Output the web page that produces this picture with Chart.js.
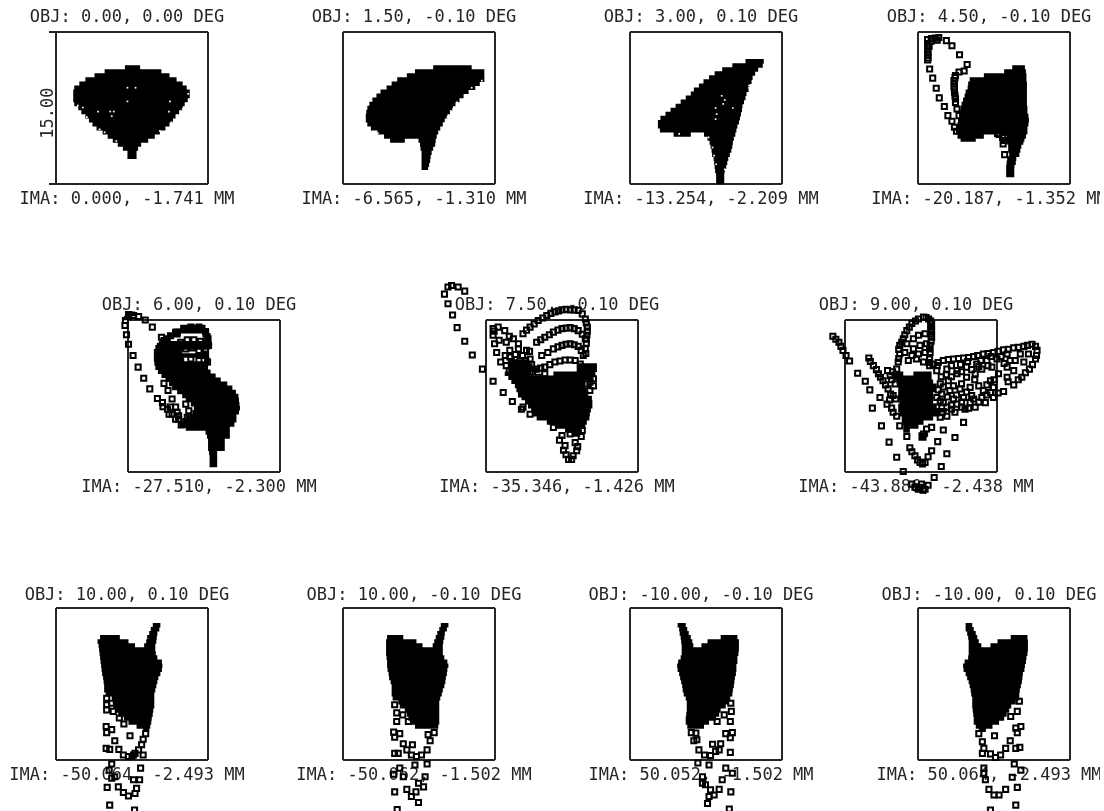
<!DOCTYPE html>
<html>
<head>
<meta charset="utf-8">
<title>Spot diagram</title>
<script src="https://cdn.jsdelivr.net/npm/chart.js@4/dist/chart.umd.min.js"></script>
<style>
   html, body { margin: 0; background: #fff; overflow: hidden; }
   #plots { position: absolute; left: 0; top: 0; width: 1100px; height: 811px; overflow: hidden; }
   #plots canvas { position: absolute; }
</style>
</head>
<body>
<div id="plots"></div>
<script>
const objLabels = ['OBJ: 0.00, 0.00 DEG', 'OBJ: 1.50, -0.10 DEG', 'OBJ: 3.00, 0.10 DEG', 'OBJ: 4.50, -0.10 DEG',
   'OBJ: 6.00, 0.10 DEG', 'OBJ: 7.50, -0.10 DEG', 'OBJ: 9.00, 0.10 DEG',
   'OBJ: 10.00, 0.10 DEG', 'OBJ: 10.00, -0.10 DEG', 'OBJ: -10.00, -0.10 DEG', 'OBJ: -10.00, 0.10 DEG'];
const imaLabels = ['IMA: 0.000, -1.741 MM', 'IMA: -6.565, -1.310 MM', 'IMA: -13.254, -2.209 MM', 'IMA: -20.187, -1.352 MM',
   'IMA: -27.510, -2.300 MM', 'IMA: -35.346, -1.426 MM', 'IMA: -43.886, -2.438 MM',
   'IMA: -50.064, -2.493 MM', 'IMA: -50.062, -1.502 MM', 'IMA: 50.052, -1.502 MM', 'IMA: 50.064, -2.493 MM'];
const boxLabel = '15.00 ';

// spot body as horizontal runs [y, xLeft, xRight] in microns
const rows1 = [[4.0,-.7,.8],[3.6,-2.7,2.9],[3.2,-3.7,3.7],[2.8,-4.6,4.4],[2.4,-5.2,5.0],[2.0,-5.7,5.4],[1.6,-5.8,5.7],[1.2,-5.8,5.7],[.8,-5.8,5.5],[.4,-5.7,5.2],[0,-5.3,5.0],[-.4,-5.0,4.65],[-.8,-4.6,4.3],[-1.2,-4.25,4.05],[-1.6,-3.9,3.7],[-2.0,-3.5,3.3],[-2.4,-2.9,2.75],[-2.8,-2.4,2.25],[-3.2,-1.9,1.6],[-3.6,-1.4,.9],[-4.0,-.9,.6],[-4.4,-.45,.45],[-4.8,-.45,.45]];
const rows2 = [[4.0,1.4,5.2],[3.6,-.4,6.45],[3.2,-1.2,6.45],[2.8,-2.15,6.45],[2.4,-2.7,6.0],[2.0,-3.2,5.55],[1.6,-3.8,4.9],[1.2,-4.2,4.4],[.8,-4.6,4.0],[.4,-4.9,3.6],[0,-5.1,3.35],[-.4,-5.2,3.05],[-.8,-5.25,2.8],[-1.2,-5.25,2.55],[-1.6,-5.1,2.35],[-2.0,-4.75,2.1],[-2.4,-4.1,1.9],[-2.8,-3.45,1.75],[-3.2,-2.85,-1.4],[-3.2,-.05,1.65],[-3.6,.1,1.6],[-4.0,.15,1.4],[-4.4,.25,1.25],[-4.8,.25,1.15],[-5.2,.25,1.1],[-5.6,.25,1.0],[-5.9,.25,.9]];
const rows3 = [[4.6,3.9,5.7],[4.2,2.6,5.6],[3.8,1.6,5.15],[3.4,.85,4.85],[3.0,.3,4.6],[2.6,-.25,4.5],[2.2,-.7,4.3],[1.8,-1.2,4.2],[1.4,-1.5,4.0],[1.0,-2.0,3.9],[.6,-2.5,3.75],[.2,-3.0,3.6],[-.2,-3.5,3.55],[-.6,-4.0,3.45],[-1.0,-4.5,3.35],[-1.4,-4.75,3.25],[-1.8,-4.75,3.1],[-2.2,-4.55,3.0],[-2.6,-3.2,-1.5],[-2.6,-.2,2.9],[-3.0,.15,2.75],[-3.4,.35,2.65],[-3.8,.45,2.6],[-4.2,.55,2.5],[-4.6,.6,2.35],[-5.0,.75,2.2],[-5.4,.8,2.1],[-5.8,.85,2.0],[-6.2,.9,1.85],[-6.6,1.0,1.8],[-7.0,1.0,1.8],[-7.3,1.0,1.8]];
const rows4 = [[4.0,1.8,3.05],[3.6,1.0,3.15],[3.2,-1.0,3.2],[2.8,-2.4,3.2],[2.4,-2.55,3.25],[2.0,-2.6,3.25],[1.6,-2.8,3.25],[1.2,-2.9,3.25],[.8,-3.05,3.25],[.4,-3.2,3.25],[0,-3.3,3.3],[-.4,-3.35,3.3],[-.8,-3.45,3.4],[-1.2,-3.55,3.45],[-1.6,-3.6,3.4],[-2.0,-3.75,3.3],[-2.4,-3.75,3.3],[-2.8,-3.6,-1.0],[-3.1,-3.3,-1.8],[-2.8,1.3,3.15],[-3.1,1.3,3.0],[-3.4,1.3,2.9],[-3.8,1.4,2.7],[-4.2,1.4,2.6],[-4.6,1.5,2.5],[-5.0,1.3,2.2],[-5.4,1.25,2.15],[-5.8,1.2,2.0],[-6.2,1.2,2.0],[-6.6,1.2,2.0]];
const rows5 = [[8.1,-7.75,-6.8],[7.7,-7.9,-7.1],[6.8,-2.3,.15],[6.4,-3.15,.5],[6.0,-3.65,-2.3],[6.0,-.15,.65],[5.6,-4.3,-3.3],[5.6,0,.65],[5.2,-4.45,.65],[4.8,-4.8,.6],[4.4,-4.95,-2.3],[4.0,-4.95,.5],[3.6,-4.95,-2.0],[3.6,0,.55],[3.2,-4.9,.5],[2.8,-4.8,.4],[2.4,-4.55,.65],[2.0,-4.2,1.15],[1.6,-3.8,1.65],[1.2,-3.45,2.3],[.8,-3.15,2.8],[.4,-2.65,3.15],[0,-2.15,3.4],[-.4,-1.8,3.45],[-.8,-1.3,3.5],[-1.2,-1.0,3.55],[-1.6,-1.15,3.45],[-2.0,-1.8,3.2],[-2.4,-2.15,3.2],[-2.8,-2.45,3.0],[-3.2,-1.8,2.55],[-3.6,.15,2.55],[-4.0,.3,2.55],[-4.4,.4,2.05],[-4.8,.4,2.05],[-5.2,.4,2.05],[-5.6,.5,1.3],[-6.0,.55,1.3],[-6.4,.55,1.3],[-6.8,.55,1.3]];
const rows6 = [[3.4,-5.3,-3.2],[3.0,-5.3,-2.9],[2.6,-5.3,-2.2],[2.2,-5.65,-3.2],[3.0,1.6,3.45],[2.6,1.45,3.45],[2.2,-.85,3.3],[1.8,-5.3,3.1],[1.4,-5.0,2.3],[1.0,-4.65,2.3],[.6,-4.5,2.45],[.2,-4.3,2.6],[-.2,-4.0,2.95],[-.6,-3.65,3.0],[-1.0,-3.35,3.0],[-1.4,-3.05,2.85],[-1.8,-2.85,2.75],[-2.2,-2.5,2.7],[-2.6,-1.5,2.45],[-3.0,-.7,2.3],[-3.4,.45,1.95],[-3.8,.95,1.8]];
const rows7 = [[2.2,-2.9,-1.75],[2.2,-.75,1.05],[1.8,-2.75,1.05],[1.4,-2.4,1.2],[1.0,-2.25,1.55],[.6,-2.25,1.4],[.2,-2.25,1.2],[-.2,-2.25,1.2],[-.6,-2.15,1.2],[-1.0,-2.25,1.55],[-1.4,-2.25,2.55],[-1.8,-2.1,1.9],[-2.2,-1.9,1.2],[-2.6,-1.9,.25],[-3.0,-1.75,-.25],[-3.4,-1.75,-1.1],[-3.8,-.25,.7],[-4.2,-.25,.55]];
const rows8 = [[5.8,2.05,2.8],[5.4,1.85,2.7],[5.0,1.7,2.5],[4.6,1.5,2.45],[4.2,1.4,2.4],[3.8,1.2,2.3],[4.6,-3.15,-1.2],[4.2,-3.4,-.35],[3.8,-3.3,.3],[3.4,-3.25,2.3],[3.0,-3.2,2.35],[2.6,-3.15,2.5],[2.2,-3.1,2.95],[1.8,-3.05,3.0],[1.4,-3.0,2.95],[1.0,-2.95,2.8],[.6,-2.85,2.6],[.2,-2.8,2.5],[-.2,-2.75,2.4],[-.6,-2.75,2.3],[-1.0,-2.6,2.2],[-1.4,-2.0,2.2],[-1.8,-1.9,2.2],[-2.2,-1.85,2.2],[-2.6,-1.6,2.1],[-3.0,-1.35,2.05],[-3.4,-.8,1.95],[-3.8,-.35,1.9],[-4.2,.45,1.8],[-4.5,1.1,1.7]];
const rows9 = [[5.8,2.15,2.9],[5.4,2.0,2.75],[5.0,1.8,2.55],[4.6,1.65,2.5],[4.2,1.5,2.4],[3.8,1.35,2.35],[4.6,-3.15,-1.55],[4.2,-3.25,-.25],[3.8,-3.25,.35],[3.4,-3.25,2.35],[3.0,-3.25,2.35],[2.6,-3.2,2.5],[2.2,-3.15,2.8],[1.8,-3.15,2.9],[1.4,-3.1,2.8],[1.0,-3.0,2.75],[.6,-2.95,2.65],[.2,-2.8,2.6],[-.2,-2.7,2.5],[-.6,-2.7,2.35],[-1.0,-2.7,2.25],[-1.4,-2.6,2.1],[-1.8,-2.05,2.0],[-2.2,-1.9,2.0],[-2.6,-1.4,2.0],[-3.0,-1.2,2.0],[-3.4,-1.05,2.0],[-3.8,-.75,2.0],[-4.2,-.4,1.9]];
const rows10 = [[5.8,-2.8,-2.0],[5.4,-2.65,-1.85],[5.0,-2.6,-1.7],[4.6,-2.5,-1.5],[4.2,-2.45,-1.35],[3.8,-2.4,-1.25],[4.6,1.45,3.1],[4.2,.15,3.25],[3.8,-.45,3.25],[3.4,-2.4,3.25],[3.0,-2.4,3.2],[2.6,-2.5,3.1],[2.2,-2.75,3.1],[1.8,-2.85,3.0],[1.4,-2.8,3.0],[1.0,-2.65,2.95],[.6,-2.55,2.85],[.2,-2.45,2.8],[-.2,-2.35,2.75],[-.6,-2.3,2.65],[-1.0,-2.2,2.6],[-1.4,-2.0,2.4],[-1.8,-1.9,2.2],[-2.2,-1.9,1.95],[-2.6,-1.9,1.45],[-3.0,-1.95,1.3],[-3.4,-2.0,1.0],[-3.8,-2.0,.3],[-4.2,-1.85,-.2]];
const rows11 = [[5.8,-2.8,-2.15],[5.4,-2.8,-2.0],[5.0,-2.65,-1.8],[4.6,-2.55,-1.65],[4.2,-2.5,-1.5],[3.8,-2.5,-1.25],[4.6,1.65,3.3],[4.2,.35,3.35],[3.8,-.35,3.35],[3.4,-2.5,3.35],[3.0,-2.5,3.3],[2.6,-2.55,3.2],[2.2,-2.9,3.15],[1.8,-3.05,3.05],[1.4,-3.0,3.0],[1.0,-2.8,2.85],[.6,-2.65,2.8],[.2,-2.5,2.75],[-.2,-2.4,2.65],[-.6,-2.3,2.55],[-1.0,-2.25,2.5],[-1.4,-2.15,2.5],[-1.8,-2.15,2.15],[-2.2,-2.15,1.7],[-2.6,-2.1,1.5],[-3.0,-2.05,1.25],[-3.4,-2.0,1.0],[-3.8,-2.0,.5],[-4.2,-1.8,-.15],[-4.5,-1.5,-.8]];

// separate ray points [x, y] in microns
const spots1 = [];
const spots2 = [];
const spots3 = [];
const spots4 = [[-6.55,6.75],[-6.15,6.85],[-5.8,6.9],[-5.45,6.95],[-4.7,6.65],[-4.15,6.15],[-3.4,5.25],[-2.65,4.3],[-6.55,6.35],[-6.55,5.8],[-6.55,5.2],[-6.55,4.75],[-6.35,3.85],[-6.05,2.95],[-5.7,1.95],[-5.4,1.0],[-4.9,.15],[-4.55,-.75],[-4.15,-1.3],[-3.9,-1.9],[-3.7,-2.3],[-2.95,3.65],[-3.45,3.55],[-3.8,3.2],[-3.95,2.7],[-3.95,2.1],[-3.9,1.55],[-3.8,.55],[-3.65,-.1],[-3.45,-.75],[.9,-3.55],[1.05,-4.6],[.85,-2.9],[1.65,-5.55],[1.15,-2.4],[.35,-2.5],
   [-6.2,6.6],[-5.6,6.7],[-6.4,6.1],[-6.5,5.5],[-6.5,4.95],[-3.85,3.0],[-3.9,2.4],[-3.9,1.85],[-3.85,1.2],[-3.8,.9],[.5,-2.6],[1.6,-2.9],[1.0,-3.2]];
const spots5 = [[-7.45,8.05],[-6.95,7.95],[-6.45,7.85],[-5.8,7.5],[-5.1,6.8],[-7.75,7.45],[-7.8,6.95],[-7.65,6.05],[-7.45,5.1],[-7.0,4.0],[-6.5,2.85],[-5.95,1.75],[-5.35,.7],[-4.6,-.25],[-4.05,-1.05],[-3.45,-1.8],[-2.8,-2.3],[-2.25,-2.85],[-3.95,1.25],[-3.55,.55],[-3.15,-.3],[-2.8,-1.1],[-2.5,-1.95],[-1.8,-.8],[-1.5,-1.45],[-1.65,-2.1],[-3.3,-1.1],[-2.65,-1.6],[-4.2,5.8],[-3.65,5.65],[-3.3,5.95],[-2.65,6.3],[-2.0,6.65],[-1.3,6.8],[-.5,6.8],[.15,6.35],[.4,5.65],[.45,5.0],[-4.3,4.9],[-3.65,4.65],[-3.0,5.0],[-2.3,5.3],[-1.65,5.55],[-1.0,5.55],[-.35,5.4],[.15,4.65],[-4.45,3.85],[-3.8,3.75],[-3.15,4.0],[-2.5,4.3],[-1.8,4.65],[-1.15,4.75],[-.5,4.5],[.15,4.0],[-3.3,3.35],[-2.3,3.35],[-1.3,3.65],[-.5,3.5],[.35,3.35],
   [-4.1,-.65],[-3.6,-1.3],[-3.15,-1.8],[-2.5,-2.3],[-2.0,-2.8]];
const spots6 = [[-11.6,10.05],[-11.25,10.75],[-10.9,10.9],[-10.25,10.75],[-9.6,10.35],[-11.25,9.1],[-10.8,8.0],[-10.35,6.75],[-9.6,5.4],[-8.85,4.05],[-7.85,2.65],[-6.8,1.45],[-5.8,.35],[-4.9,-.55],[-4.0,-1.3],[-3.15,-1.8],[-6.8,6.65],[-6.3,6.8],[-5.65,6.45],[-6.8,6.0],[-6.65,5.15],[-5.5,5.3],[-4.8,5.65],[-6.45,4.3],[-6.05,3.35],[-5.15,4.5],[-4.3,5.15],[-3.85,6.15],[-3.15,6.8],[-2.35,7.45],[-1.5,7.95],[-.7,8.3],[0,8.5],[.8,8.5],[1.6,8.45],[2.3,7.6],[2.5,6.8],[2.45,6.0],[-5.15,3.85],[-4.3,4.65],[-3.5,4.5],[-2.5,5.3],[-1.7,5.8],[-.85,6.3],[0,6.65],[.8,6.75],[1.6,6.45],[2.3,5.65],[2.3,4.65],[-4.15,3.5],[-3.15,3.65],[-2.0,4.0],[-.85,4.65],[0,5.0],[.8,5.15],[1.6,4.9],[2.1,4.0],[-2.5,2.65],[-1.7,2.85],[-.7,3.35],[.3,3.55],[1.3,3.5],[1.8,3.15],[-3.5,3.0],[-4.8,2.85],[-4.15,2.2],[-3.15,2.2],[-2.35,1.85],[-1.7,2.2],[2.75,1.35],[3.1,1.7],[2.75,.55],[3.1,1.0],[2.45,1.2],[-.85,-3.1],[-.25,-4.35],[.15,-5.35],[.65,-6.25],[1.1,-5.9],[1.45,-5.4],[1.3,-4.6],[.8,-3.75],[1.6,-3.45],[.65,-3.25],[.95,-6.25],[-3.85,-1.1],[-3.15,-.15],[-4.0,.2],
   [-3.5,6.5],[-2.75,7.1],[-1.9,7.7],[-1.1,8.15],[-.35,8.4],[.4,8.55],[1.2,8.5],[2.0,8.1],[2.4,7.2],[2.5,6.4],[2.4,5.6],[2.4,5.2],[2.35,4.2],[-2.1,5.55],[-1.25,6.05],[-.4,6.5],[.4,6.7],[1.2,6.65],[2.0,6.1],[-1.4,4.3],[-.4,4.85],[.4,5.1],[1.2,5.05],[1.9,4.5],[-1.2,3.1],[-.2,3.45],[.8,3.55],[-2.1,2.75],[-5.5,3.0],[-5.0,3.4],[-4.6,3.1],[-3.8,2.6],[-5.2,2.5],[-3.9,4.0],[-4.6,4.1],[-3.0,3.1],[-2.9,2.4],[-3.6,3.5],[-3.2,4.4],[-5.6,4.0],[-6.7,6.4],[-5.2,5.9],[-6.2,5.5],[2.0,-3.4],[1.9,-4.0],[1.55,-5.0],[.4,-5.8],[.3,-4.9],[0,-3.9]];
const spots7 = [[-.25,7.6],[.25,7.8],[.75,7.6],[1.05,7.15],[1.05,6.45],[1.05,5.8],[.9,5.0],[.9,4.3],[.85,3.65],[.85,3.0],[-.9,7.15],[-1.4,6.45],[-1.75,5.65],[-2.1,5.0],[-2.1,4.15],[-2.25,3.35],[-2.4,2.65],[-.75,5.65],[-.25,6.0],[.4,6.15],[-1.4,5.15],[-.75,4.65],[-.1,5.0],[.55,5.15],[-1.6,4.3],[-.9,4.0],[-.25,4.15],[.4,4.3],[-1.25,3.5],[-.45,3.65],[.25,3.35],[-8.7,5.9],[-8.1,5.3],[-7.7,4.5],[-7.05,3.45],[-6.25,2.25],[-5.5,1.45],[-5.05,.6],[-4.05,-.15],[-3.35,-.8],[-2.75,-1.6],[-5.15,3.75],[-4.7,3.0],[-4.2,2.2],[-3.75,1.5],[-3.25,.7],[-2.5,-.3],[-3.05,2.0],[-2.55,1.2],[-2.75,.05],[-4.8,-1.2],[-3.9,-2.95],[-3.15,-4.55],[-2.4,-6.05],[-1.75,-7.45],[-2.1,-2.95],[-1.4,-4.0],[-1.1,-5.1],[-.6,-5.9],[-.1,-6.55],[.4,-6.55],[1.05,-5.4],[1.65,-4.5],[2.2,-3.35],[3.35,-4.1],[2.55,-5.7],[2.0,-6.95],[1.3,-8.05],[4.2,-2.6],[.55,-3.25],[1.05,-3.1],[.25,-3.75],[-.9,-8.7],[-.25,-9.2],[.4,-9.2],[.05,-8.7],[1.2,3.15],[2.2,3.5],[3.2,3.65],[4.2,3.75],[5.2,3.9],[6.15,4.15],[7.15,4.3],[8.15,4.55],[9.15,4.75],[10.15,4.9],[10.95,5.1],[11.45,4.5],[11.3,3.65],[10.7,2.65],[9.95,1.85],[9.15,1.1],[8.15,.45],[7.15,-.15],[6.35,-.65],[5.35,-1.1],[4.35,-1.3],[3.35,-1.6],[2.55,-2.0],[1.9,-2.1],[1.55,2.5],[2.55,2.65],[3.55,2.5],[4.5,2.85],[5.5,3.15],[6.5,3.5],[7.5,3.65],[8.5,4.15],[9.3,3.5],[8.5,2.85],[7.65,2.2],[6.85,1.5],[6.15,.55],[5.0,.05],[4.2,-.15],[3.2,-.3],[2.2,-.65],[1.55,-.15],[1.9,1.2],[2.7,1.5],[3.55,2.2],[4.5,1.85],[5.35,2.2],[6.0,2.65],[7.0,2.85],[8.8,3.5],[9.8,4.15],[10.6,4.15],[10.15,3.35],[9.15,2.5],[8.5,1.85],[7.15,.85],[5.7,1.0],[4.85,.85],[3.85,.7],[2.85,.55],[2.05,.2],[1.55,-1.1],[2.55,-1.1],[3.55,-.8],[4.85,-.65],[6.0,-.15],[6.85,.35],
   [1.6,3.0],[2.0,1.9],[2.5,2.1],[3.0,3.0],[3.0,1.9],[3.9,3.1],[4.0,2.4],[4.6,3.4],[5.0,2.6],[5.7,2.9],[5.9,3.5],[6.6,3.0],[6.9,3.9],[7.9,3.9],[8.2,3.2],[7.2,1.6],[6.5,1.1],[5.3,1.6],[3.2,1.0],[2.2,.9],[1.7,.6],[4.0,1.2],[4.5,.4],[3.5,.1],[2.6,-.1],[1.9,-.5],[3.0,-.9],[4.0,-.6],[5.2,-.3],[5.7,-.6],[2.1,-1.6],[3.0,-1.3],[4.0,-1.1],[4.7,-1.2],[6.5,.1],[7.6,.3],[8.6,1.4],[9.6,1.6],[10.3,2.3],[11.0,3.1],[11.4,4.0],[11.3,4.9],[10.5,5.0],[9.6,4.8],[8.6,4.6],[7.6,4.4],[6.6,4.2],[5.6,4.0],[4.7,3.8],[3.7,3.7],[2.7,3.6],[1.7,3.3],
   [-2.9,1.6],[-3.0,.2],[-3.3,2.5],[-2.8,2.4],[-3.1,-.4],[-2.9,-1.2],[-2.4,-2.0],[.95,6.8],[.95,6.1],[1.0,5.4],[.85,4.65],[.8,3.3],[-1.9,5.3],[-2.2,4.6],[-2.2,3.7],[-1.15,6.8],[-1.6,6.05],[-.55,7.4],[.5,7.75],[.95,7.4],[-8.4,5.6],[-7.9,4.9],[-7.4,4.0],[-5.0,3.4],[-4.4,2.6],[-4.0,1.85],[-3.5,1.1],[-.35,-6.3],[.15,-6.7],[.7,-6.0],[-.9,-5.5],[-.1,-9.0],[.2,-9.3],[-.6,-9.0],[.7,-8.8]];
const spots8 = [[-2.5,-1.4],[-2.5,-2.05],[-2.0,-1.9],[-2.5,-2.55],[-1.85,-2.7],[-1.25,-3.35],[-.8,-3.95],[-2.55,-4.2],[-2.0,-4.5],[-2.5,-4.8],[-.2,-5.1],[-1.7,-5.6],[1.35,-4.9],[1.1,-5.45],[.95,-6.0],[-2.55,-6.35],[-2.2,-6.45],[-1.3,-6.45],[-.85,-7.0],[-.35,-7.15],[.15,-7.0],[.65,-6.5],[1.1,-7.0],[-2.0,-7.9],[-2.25,-8.5],[.85,-8.3],[-1.7,-9.15],[.15,-9.45],[.75,-9.45],[-2.45,-10.2],[-1.35,-10.15],[-.85,-10.7],[-.35,-11.05],[.3,-10.8],[.45,-10.3],[-2.2,-11.95],[.25,-12.45],[-2.0,-9.3],[0,-7.15],[.3,-6.85]];
const spots9 = [[-2.4,-2.05],[-2.2,-2.85],[-1.6,-3.05],[-2.2,-3.7],[-1.05,-3.7],[-2.5,-4.75],[-1.9,-4.9],[-2.4,-5.25],[.9,-5.0],[1.5,-4.8],[1.1,-5.6],[-1.55,-5.9],[-.65,-6.0],[-1.2,-6.5],[-.75,-7.0],[-.25,-7.15],[.25,-7.0],[.8,-6.5],[-2.4,-6.85],[-2.05,-6.85],[-.4,-8.0],[.8,-7.9],[-1.9,-8.3],[-2.5,-8.9],[-1.55,-9.15],[.6,-9.15],[-.05,-9.8],[.45,-10.15],[-.3,-10.65],[-1.2,-10.4],[-2.4,-10.65],[-.75,-11.1],[-.05,-11.7],[-2.15,-12.4]];
const spots10 = [[2.45,-1.9],[2.5,-2.7],[1.8,-3.05],[2.4,-3.7],[1.1,-3.7],[-1.0,-4.85],[-.9,-5.5],[-1.45,-4.8],[-1.2,-5.6],[1.95,-4.9],[2.6,-4.8],[2.4,-5.3],[.65,-5.95],[1.45,-5.9],[-.7,-6.5],[-.15,-7.0],[.45,-7.05],[.95,-6.65],[1.3,-6.5],[2.4,-6.75],[.3,-8.0],[-.8,-7.8],[1.95,-8.3],[2.6,-8.8],[1.6,-9.45],[-.35,-9.15],[-.05,-9.95],[.45,-10.45],[1.3,-10.4],[.8,-10.95],[.3,-11.1],[.15,-11.8],[2.45,-10.65],[2.3,-12.35],[-.35,-9.8]];
const spots11 = [[2.5,-1.7],[2.3,-2.7],[1.65,-3.2],[2.15,-4.35],[2.65,-4.2],[2.3,-4.8],[-1.5,-4.9],[-1.15,-5.7],[-1.0,-6.35],[.05,-5.1],[1.6,-5.6],[1.15,-6.35],[2.15,-6.35],[2.55,-6.25],[-1.15,-6.85],[-.35,-6.9],[.15,-7.25],[.65,-7.0],[-1.0,-8.3],[-.85,-9.45],[2.0,-7.9],[2.65,-8.5],[1.8,-9.2],[-.5,-10.4],[0,-10.95],[.5,-10.95],[1.15,-10.4],[2.3,-10.2],[2.15,-11.95],[-.35,-12.45],[-1.0,-8.8]];

// light pin holes left inside the black body
const specks1 = [[-.45,2.0],[.35,2.0],[-.45,.65],[3.75,.65],[-3.35,-.35],[-2.15,-.35],[-1.8,-.35],[-2.0,-.8],[3.65,-.35],[-5.35,.25],[-4.85,.05],[-4.45,-.9],[-3.2,-2.1],[-2.7,-2.4],[-1.55,-3.25],[2.75,-2.25],[3.9,-1.4],[5.0,-.1],[5.55,1.4]];
const specks2 = [[6.2,2.7],[5.2,2.0],[3.75,.55],[3.35,-.1],[2.8,-.9],[2.5,-1.5],[-4.05,-2.5]];
const specks3 = [[1.55,1.2],[1.85,.8],[1.7,.4],[.95,0],[1.05,-.6],[.95,-1.1],[2.65,0],[.25,-2.9],[.65,-3.9],[.8,-4.7],[1.0,-5.55],[1.85,-6.05],[4.25,2.2],[4.25,2.0],[-2.65,-2.55]];

const allRows = [rows1, rows2, rows3, rows4, rows5, rows6, rows7, rows8, rows9, rows10, rows11];
const allSpots = [spots1, spots2, spots3, spots4, spots5, spots6, spots7, spots8, spots9, spots10, spots11];
const allSpecks = [specks1, specks2, specks3, [], [], [], [], [], [], [], []];

// where each box sits on the page
const boxLeft = [56, 343, 630, 918, 128, 486, 845, 56, 343, 630, 918];
const boxTop = [32, 32, 32, 32, 320, 320, 320, 608, 608, 608, 608];
const titleGap = [4, 4, 4, 4, 4, 4, 4, 2, 2, 2, 2];
const boxSize = 152;
const sideMargin = 60;
const axisWidth = 10;
const titleBlock = 54;
const footBlock = 86;
const ink = '#262626';
const halfBox = 7.5;

function rowsToPath(rows) {
   const path = [];
   rows.forEach(row => {
      path.push({ x: row[1], y: row[0] }, { x: row[2], y: row[0] }, { x: null, y: null });
   });
   return path;
}

function toPoints(list) {
   return list.map(p => ({ x: p[0], y: p[1] }));
}

function boxScale(withMarks) {
   return {
      type: 'linear',
      min: -halfBox,
      max: halfBox,
      afterBuildTicks: scale => { scale.ticks = [{ value: -halfBox }, { value: halfBox }]; },
      ticks: { display: false },
      border: { display: false },
      grid: { color: ink, lineWidth: 2, drawTicks: withMarks, tickLength: 7 }
   };
}

// chart.js skips points outside chartArea, but the rays leave the box here
const drawOutsideBox = {
   id: 'drawOutsideBox',
   beforeDatasetsDraw(chart) {
      chart.$boxArea = chart.chartArea;
      chart.chartArea = { left: 0, top: 0, right: chart.width, bottom: chart.height };
   },
   afterDatasetsDraw(chart) {
      chart.chartArea = chart.$boxArea;
   }
};

function createPanel(i) {
   const canvas = document.createElement('canvas');
   canvas.width = sideMargin + axisWidth + boxSize + sideMargin;
   canvas.height = titleBlock + boxSize + footBlock;
   canvas.style.left = (boxLeft[i] - axisWidth - sideMargin) + 'px';
   canvas.style.top = (boxTop[i] - titleBlock) + 'px';
   document.getElementById('plots').appendChild(canvas);

   const labelFont = { family: '"DejaVu Sans Mono"', size: 17, weight: 'normal', lineHeight: '20px' };
   const yScale = boxScale(i === 0);
   yScale.afterFit = scale => { scale.width = sideMargin + axisWidth; };
   yScale.title = {
      display: i === 0,
      text: boxLabel,
      color: ink,
      padding: { top: 57, bottom: 0 },
      font: { family: '"DejaVu Sans Mono"', size: 17, weight: 'normal', lineHeight: '12px' }
   };

   new Chart(canvas, {
      type: 'scatter',
      plugins: [drawOutsideBox],
      data: {
         datasets: [{
            data: rowsToPath(allRows[i]),
            showLine: true,
            spanGaps: false,
            borderColor: '#000',
            borderWidth: 4.6,
            pointRadius: 0,
            clip: false,
            order: 3
         }, {
            data: toPoints(allSpots[i]),
            pointStyle: 'rect',
            pointRadius: 3.6,
            pointBorderWidth: 2,
            pointBorderColor: '#000',
            pointBackgroundColor: 'transparent',
            clip: false,
            order: 2
         }, {
            data: toPoints(allSpecks[i]),
            pointStyle: 'rect',
            pointRadius: 1.2,
            pointBorderWidth: 0,
            pointBackgroundColor: '#fff',
            clip: false,
            order: 1
         }]
      },
      options: {
         responsive: false,
         animation: false,
         scales: {
            x: boxScale(false),
            y: yScale,
            yRight: {
               position: 'right',
               afterFit: scale => { scale.width = sideMargin; },
               ticks: { display: false },
               border: { display: false },
               grid: { display: false }
            }
         },
         plugins: {
            legend: { display: false },
            tooltip: { enabled: false },
            title: {
               display: true,
               text: objLabels[i],
               color: ink,
               font: labelFont,
               padding: { top: 34 - titleGap[i], bottom: titleGap[i] }
            },
            subtitle: {
               display: true,
               position: 'bottom',
               text: imaLabels[i],
               color: ink,
               font: labelFont,
               padding: { top: 6, bottom: 60 }
            }
         }
      }
   });
}

for (let i = 0; i < objLabels.length; i++) {
   createPanel(i);
}
</script>
</body>
</html>
